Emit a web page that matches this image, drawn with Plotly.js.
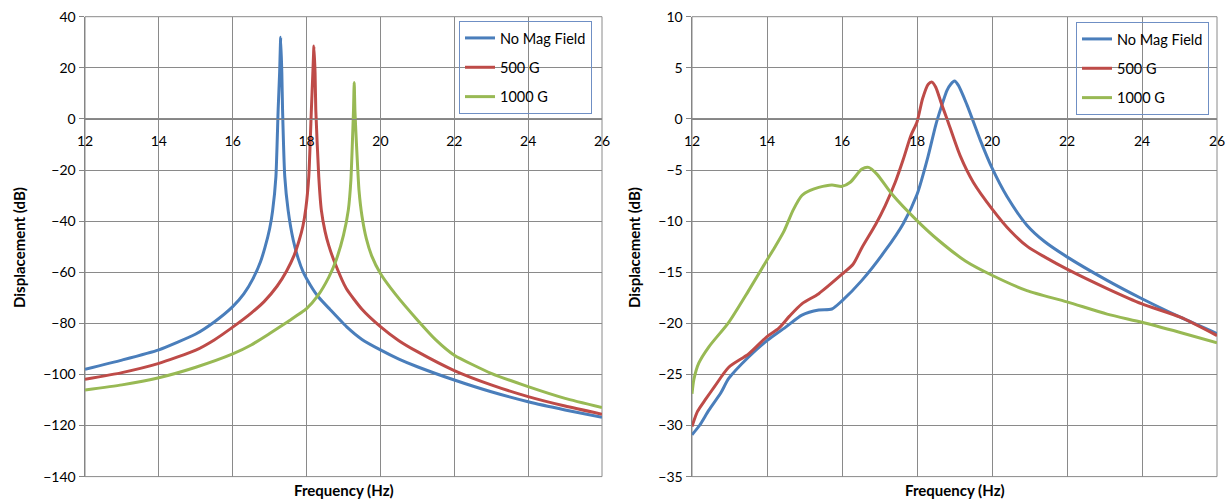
<!DOCTYPE html>
<html>
<head>
<meta charset="utf-8">
<script src="https://cdn.plot.ly/plotly-3.0.1.min.js"></script>
<style>html,body{margin:0;padding:0;background:#fff;}#chart{width:1231px;height:501px;}</style>
</head>
<body>
<div id="chart"></div>
<script>
// ---------- Data ----------
const seriesNames = ["No Mag Field", "500 G", "1000 G"];
const xTickVals = [12, 14, 16, 18, 20, 22, 24, 26];

// Left chart
const leftFreqBlue = [12, 13, 14, 15, 15.5, 16, 16.3, 16.55, 16.75, 16.87, 17.0, 17.08, 17.17, 17.23, 17.27, 17.3, 17.33, 17.35, 17.41, 17.5, 17.64, 17.77, 17.91, 18.1, 18.31, 18.63, 19.08, 19.5, 20, 20.5, 21, 22, 23, 24, 25, 26];
const leftDbBlue   = [-98, -94.4, -90.4, -84.2, -79.5, -73.5, -68.5, -62.5, -56, -50.5, -43, -36, -22.6, 3.5, 18, 32, 18, 3.5, -22.6, -35.7, -47.5, -54.5, -60, -65, -69.5, -74.5, -81.3, -86.3, -90.4, -94, -97, -102.2, -106.8, -110.7, -113.9, -116.8];

const leftFreqRed = [12, 13, 14, 15, 15.5, 16, 16.5, 16.85, 17.2, 17.46, 17.66, 17.8, 17.9, 17.98, 18.06, 18.13, 18.17, 18.2, 18.23, 18.25, 18.33, 18.4, 18.5, 18.6, 18.77, 19.08, 19.5, 20, 20.5, 21, 22, 23, 24, 25, 26];
const leftDbRed   = [-101.9, -99.3, -95.7, -90.5, -86.5, -81.5, -76, -71.5, -65.5, -59.5, -53.5, -47.5, -42, -35, -22.6, 3.5, 18, 28.5, 18, 3.5, -22.6, -35.7, -44, -49.5, -56.5, -66.5, -74.5, -81.3, -86.8, -91.1, -98.5, -104.1, -108.7, -112.4, -115.6];

const leftFreqGreen = [12, 13, 14, 15, 16, 16.5, 17, 17.5, 18, 18.3, 18.6, 18.8, 19.0, 19.13, 19.2, 19.24, 19.27, 19.29, 19.31, 19.35, 19.42, 19.5, 19.62, 19.76, 20, 20.4, 21, 21.5, 22, 23, 24, 25, 26];
const leftDbGreen   = [-106.1, -104.1, -101.3, -97.2, -92, -88.5, -84, -79.3, -74.3, -69.3, -62, -55.3, -45.5, -35.7, -24, -9.6, 3, 14.2, 3, -9.6, -28, -38, -47, -53.5, -60.5, -68.5, -78.7, -86.5, -92.5, -99.6, -104.8, -109.4, -113];

// Right chart
const rightFreqBlue = [12, 12.2, 12.45, 12.77, 12.98, 13.51, 14, 14.49, 14.93, 15.38, 15.73, 16, 16.53, 17.15, 17.64, 18, 18.3, 18.5, 18.65, 18.8, 18.9, 19.0, 19.1, 19.33, 19.69, 20, 20.4, 20.93, 21.4, 22, 23.07, 24, 25.02, 26];
const rightDbBlue   = [-30.9, -30.0, -28.5, -26.8, -25.4, -23.3, -21.7, -20.4, -19.2, -18.7, -18.6, -17.8, -15.8, -12.9, -10.2, -7.4, -3.6, -0.6, 1.2, 2.8, 3.4, 3.7, 3.3, 1.4, -2.1, -4.8, -7.6, -10.4, -12.0, -13.5, -15.8, -17.6, -19.4, -21.0];

const rightFreqRed = [12, 12.15, 12.35, 12.6, 12.98, 13.51, 14, 14.31, 14.6, 14.93, 15.38, 16, 16.3, 16.53, 16.9, 17.15, 17.42, 17.63, 17.84, 18.0, 18.15, 18.3, 18.4, 18.5, 18.65, 18.8, 19.15, 19.5, 20, 20.5, 20.95, 21.4, 22, 23.07, 24, 25.02, 26];
const rightDbRed   = [-30.1, -28.6, -27.5, -26.2, -24.3, -23.0, -21.3, -20.5, -19.3, -18.1, -17.1, -15.2, -14.2, -12.6, -10.3, -8.5, -6.2, -4.0, -1.6, -0.3, 2.0, 3.4, 3.6, 3.1, 1.5, 0.0, -3.6, -6.2, -8.8, -11.0, -12.5, -13.5, -14.7, -16.6, -18.1, -19.4, -21.2];

const rightFreqGreen = [12, 12.05, 12.18, 12.45, 12.98, 13.51, 14, 14.2, 14.45, 14.7, 14.93, 15.15, 15.38, 15.73, 16, 16.22, 16.53, 16.71, 16.93, 17.33, 18, 18.58, 19.29, 20, 20.93, 22, 23.07, 24, 25.02, 26];
const rightDbGreen   = [-26.9, -25.5, -23.9, -22.3, -19.9, -16.8, -13.8, -12.6, -11.0, -8.9, -7.5, -7.0, -6.7, -6.47, -6.6, -6.2, -4.9, -4.74, -5.4, -7.35, -9.95, -11.9, -13.9, -15.3, -16.8, -17.9, -19.1, -19.9, -20.9, -21.9];

// ---------- Styling ----------
const colors = ["#4A7EBB", "#BE4B48", "#98B954"];
const FONT = "Lato, 'Open Sans', 'Liberation Sans', sans-serif";
const gridC = "#8a8a8a";
const axisC = "#858585";

function tr(x, y, i, xa, ya, leg, smooth) {
  return {
    x: x, y: y, type: "scatter", mode: "lines",
    name: seriesNames[i], xaxis: xa, yaxis: ya, legend: leg,
    legendgroup: leg + "_" + i,
    line: {color: colors[i], width: 3, shape: "spline", smoothing: smooth},
    hoverinfo: "x+y+name"
  };
}

const data = [
  tr(leftFreqBlue, leftDbBlue, 0, "x", "y", "legend", 0.5),
  tr(leftFreqRed, leftDbRed, 1, "x", "y", "legend", 0.5),
  tr(leftFreqGreen, leftDbGreen, 2, "x", "y", "legend", 0.5),
  tr(rightFreqBlue, rightDbBlue, 0, "x2", "y2", "legend2", 0.7),
  tr(rightFreqRed, rightDbRed, 1, "x2", "y2", "legend2", 0.7),
  tr(rightFreqGreen, rightDbGreen, 2, "x2", "y2", "legend2", 0.7)
];

const W = 1231, H = 501;
const yDom = [1 - 476.6 / H, 1 - 16.7 / H];
const xDomL = [85 / W, 602 / W];
const xDomR = [692 / W, 1217 / W];
const zeroFrac = 140 / 180; // position of 0 in both y ranges
const xPos = yDom[0] + zeroFrac * (yDom[1] - yDom[0]);

function xAxis(dom) {
  return {
    domain: dom, range: [12, 26], tickvals: xTickVals, ticktext: xTickVals.map(String),
    anchor: "free", position: xPos,
    showgrid: true, gridcolor: gridC, gridwidth: 1,
    showline: true, linecolor: axisC, linewidth: 1.5,
    ticks: "", ticklabelstandoff: 9, zeroline: false,
    tickfont: {family: FONT, size: 14, color: "#000"},
    automargin: false, fixedrange: true
  };
}
function yAxis(anchor, range, dtick) {
  return {
    domain: yDom, range: range, dtick: dtick, tick0: 0, anchor: anchor,
    showgrid: true, gridcolor: gridC, gridwidth: 1,
    showline: true, linecolor: axisC, linewidth: 1.5,
    ticks: "outside", ticklen: 5, tickcolor: axisC, zeroline: false,
    tickfont: {family: FONT, size: 14, color: "#000"},
    automargin: false, fixedrange: true
  };
}

function legend(x, y) {
  return {
    x: x, y: y, xanchor: "left", yanchor: "top",
    bgcolor: "rgba(0,0,0,0)", bordercolor: "#6f8fc4", borderwidth: 1,
    font: {family: FONT, size: 14.5, color: "#000"},
    tracegroupgap: 7.5, itemwidth: 30, traceorder: "grouped"
  };
}

function rect(xr, yr) {
  return {type: "rect", xref: xr + " domain", yref: yr + " domain", x0: 0, x1: 1, y0: 0, y1: 1,
          line: {color: gridC, width: 1}, layer: "below"};
}

const titleFont = {family: FONT, size: 15, color: "#000"};
const layout = {
  width: W, height: H,
  margin: {l: 0, r: 0, t: 0, b: 0},
  paper_bgcolor: "#fff", plot_bgcolor: "#fff",
  font: {family: FONT, size: 14, color: "#000"},
  showlegend: true,
  xaxis: xAxis(xDomL),
  yaxis: yAxis("x", [-140, 40], 20),
  xaxis2: xAxis(xDomR),
  yaxis2: yAxis("x2", [-35, 10], 5),
  legend: legend(459 / W, 1 - 21 / H),
  legend2: legend(1076 / W, 1 - 22 / H),
  shapes: [rect("x", "y"), rect("x2", "y2")],
  annotations: [
    {text: "<b>Displacement (dB)</b>", xref: "paper", yref: "paper", x: 19 / W, y: 1 - 248 / H,
     textangle: -90, showarrow: false, font: titleFont, xanchor: "center", yanchor: "middle"},
    {text: "<b>Displacement (dB)</b>", xref: "paper", yref: "paper", x: 634 / W, y: 1 - 248 / H,
     textangle: -90, showarrow: false, font: titleFont, xanchor: "center", yanchor: "middle"},
    {text: "<b>Frequency (Hz)</b>", xref: "paper", yref: "paper", x: 343.5 / W, y: 1 - 490 / H,
     showarrow: false, font: titleFont, xanchor: "center", yanchor: "middle"},
    {text: "<b>Frequency (Hz)</b>", xref: "paper", yref: "paper", x: 954.5 / W, y: 1 - 490 / H,
     showarrow: false, font: titleFont, xanchor: "center", yanchor: "middle"}
  ]
};

Plotly.newPlot("chart", data, layout, {displayModeBar: false, staticPlot: true});
</script>
</body>
</html>
